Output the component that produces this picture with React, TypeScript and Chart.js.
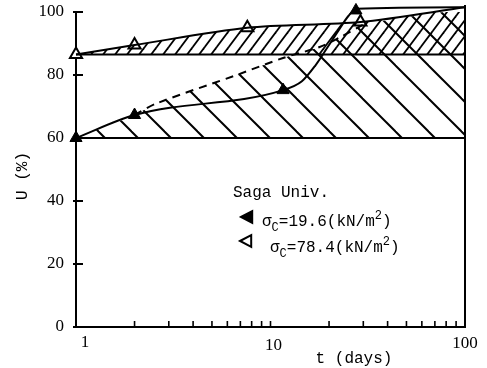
import React, { useEffect, useRef } from "react";
import { Chart, registerables } from "chart.js";

Chart.register(...registerables);

// ---- data ----
const yTickValues = [0, 20, 40, 60, 80, 100];
const xTickValues = [1, 2, 3, 4, 5, 6, 7, 8, 9, 10, 20, 30, 40, 50, 60, 70, 80, 90, 100];
const xLabelValues = [1, 10, 100];

// sigma_c = 19.6 (filled triangles)
const filledMarkT = [1, 2, 11.6, 27.5];
const filledMarkU = [60, 67.3, 75.2, 100.5];
const filledCurveT = [1, 2, 11.6, 14.5, 17, 19.5, 22.3, 25.2, 27.8, 100];
const filledCurveU = [60, 67.3, 75.2, 78, 83, 88.5, 94, 98.8, 101, 101.5];

// sigma_c = 78.4 (open triangles)
const openMarkT = [1, 2, 7.6, 29];
const openMarkU = [86.5, 89.5, 95, 96.8];
const openCurveT = [1, 2, 7.6, 29, 100];
const openCurveU = [86.5, 89.5, 95, 96.8, 101.5];

// dashed curve
const dashedT = [2, 2.6, 6.7, 11.6, 17.9, 22.8, 29.8];
const dashedU = [67.3, 71, 80, 85.4, 88.9, 92, 95.9];

// lower hatched band upper boundary
const hatchLowT = [1, 2, 2.6, 6.7, 11.6, 17.9, 22.8, 29.8, 100];
const hatchLowU = [60, 67.3, 71, 80, 85.4, 88.9, 92, 95.9, 101];

const baseLowU = 60;
const baseHighU = 86.5;
const rangeT = [1, 100];

const zip = (xs: number[], ys: number[]) => xs.map((x, i) => ({ x, y: ys[i] }));

function makePattern(w: number, h: number, forward: boolean, lw: number) {
  const c = document.createElement("canvas");
  c.width = w;
  c.height = h;
  const g = c.getContext("2d")!;
  g.strokeStyle = "#000";
  g.lineWidth = lw;
  g.lineCap = "square";
  for (const o of [-w, 0, w]) {
    g.beginPath();
    if (forward) {
      g.moveTo(o, h);
      g.lineTo(o + w, 0);
    } else {
      g.moveTo(o, 0);
      g.lineTo(o + w, h);
    }
    g.stroke();
  }
  return g.createPattern(c, "repeat")!;
}

function triangle(ctx: CanvasRenderingContext2D, cx: number, cy: number, r: number, filled: boolean) {
  ctx.beginPath();
  ctx.moveTo(cx - r, cy);
  ctx.lineTo(cx + r * 0.6, cy - r * 0.85);
  ctx.lineTo(cx + r * 0.6, cy + r * 0.85);
  ctx.closePath();
  ctx.fillStyle = filled ? "#000" : "#fff";
  ctx.fill();
  ctx.lineWidth = 2;
  ctx.strokeStyle = "#000";
  ctx.stroke();
}

function sigmaText(ctx: CanvasRenderingContext2D, x: number, y: number, val: string) {
  const big = "16px 'Liberation Mono', monospace";
  const small = "12px 'Liberation Mono', monospace";
  ctx.fillStyle = "#000";
  ctx.textBaseline = "alphabetic";
  ctx.textAlign = "left";
  ctx.font = big;
  ctx.fillText("\u03c3", x, y);
  let cx = x + ctx.measureText("\u03c3").width;
  ctx.font = small;
  ctx.fillText("C", cx, y + 5);
  cx += ctx.measureText("C").width;
  ctx.font = big;
  const s1 = "=" + val + "(kN/m";
  ctx.fillText(s1, cx, y);
  cx += ctx.measureText(s1).width;
  ctx.font = small;
  ctx.fillText("2", cx, y - 7);
  cx += ctx.measureText("2").width;
  ctx.font = big;
  ctx.fillText(")", cx, y);
}

const decor = {
  id: "decor",
  afterDraw(chart: any) {
    const { ctx, chartArea } = chart;
    const { left, right, bottom } = chartArea;
    const xs = chart.scales.x;
    const ys = chart.scales.y;
    ctx.save();
    ctx.strokeStyle = "#000";
    ctx.lineWidth = 2;
    // right axis
    ctx.beginPath();
    ctx.moveTo(right, ys.getPixelForValue(102.2));
    ctx.lineTo(right, bottom + 1);
    ctx.stroke();
    // y ticks (inside)
    for (const v of yTickValues) {
      const py = ys.getPixelForValue(v);
      ctx.beginPath();
      ctx.moveTo(left - 3, py);
      ctx.lineTo(left + 7, py);
      ctx.stroke();
    }
    // x ticks (inside)
    ctx.lineWidth = 1.6;
    for (const v of xTickValues) {
      const px = xs.getPixelForValue(v);
      ctx.beginPath();
      ctx.moveTo(px, bottom);
      ctx.lineTo(px, bottom - 6);
      ctx.stroke();
    }
    // x labels
    ctx.fillStyle = "#000";
    ctx.font = "17px 'Liberation Serif', serif";
    ctx.textAlign = "center";
    ctx.textBaseline = "middle";
    const offs: Record<number, [number, number]> = { 1: [9, 16], 10: [3, 19], 100: [0, 17] };
    for (const v of xLabelValues) {
      const [dx, dy] = offs[v];
      ctx.fillText(String(v), xs.getPixelForValue(v) + dx, bottom + dy);
    }
    // axis titles
    ctx.font = "16px 'Liberation Mono', monospace";
    ctx.fillText("t (days)", 354, 359);
    ctx.save();
    ctx.translate(23, 176);
    ctx.rotate(-Math.PI / 2);
    ctx.fillText("U (%)", 0, 0);
    ctx.restore();
    // legend
    ctx.textAlign = "left";
    ctx.textBaseline = "alphabetic";
    ctx.font = "16px 'Liberation Mono', monospace";
    ctx.fillText("Saga Univ.", 233, 197);
    triangle(ctx, 248, 217, 7, true);
    sigmaText(ctx, 262, 226, "19.6");
    triangle(ctx, 247, 241, 7, false);
    sigmaText(ctx, 270, 252, "78.4");
    ctx.restore();
  },
};

export default function App() {
  const ref = useRef<HTMLCanvasElement>(null);
  useEffect(() => {
    const back = makePattern(33, 33, false, 2);
    const fwd = makePattern(12, 16, true, 1.8);
    const chart = new Chart(ref.current!, {
      type: "line",
      data: {
        datasets: [
          {
            label: "hatchLow",
            data: zip(hatchLowT, hatchLowU),
            borderWidth: 0,
            pointRadius: 0,
            tension: 0.3,
            fill: { value: baseLowU },
            backgroundColor: back,
            clip: false,
          } as any,
          {
            label: "hatchHigh",
            data: zip(openCurveT, openCurveU),
            borderWidth: 0,
            pointRadius: 0,
            tension: 0.3,
            fill: { value: baseHighU },
            backgroundColor: fwd,
            clip: false,
          } as any,
          {
            label: "base60",
            data: zip(rangeT, [baseLowU, baseLowU]),
            borderColor: "#000",
            borderWidth: 2,
            pointRadius: 0,
            fill: false,
          },
          {
            label: "base86",
            data: zip(rangeT, [baseHighU, baseHighU]),
            borderColor: "#000",
            borderWidth: 2,
            pointRadius: 0,
            fill: false,
          },
          {
            label: "dashed",
            data: zip(dashedT, dashedU),
            borderColor: "#000",
            borderWidth: 2,
            borderDash: [8, 6],
            pointRadius: 0,
            tension: 0.3,
            fill: false,
          },
          {
            label: "filledCurve",
            data: zip(filledCurveT, filledCurveU),
            borderColor: "#000",
            borderWidth: 2,
            pointRadius: 0,
            cubicInterpolationMode: "monotone",
            fill: false,
            clip: false,
          } as any,
          {
            label: "openCurve",
            data: zip(openCurveT, openCurveU),
            borderColor: "#000",
            borderWidth: 2,
            pointRadius: 0,
            tension: 0.3,
            fill: false,
            clip: false,
          } as any,
          {
            label: "sigma 19.6",
            data: zip(filledMarkT, filledMarkU),
            showLine: false,
            pointStyle: "triangle",
            pointRadius: 7,
            pointBackgroundColor: "#000",
            pointBorderColor: "#000",
            pointBorderWidth: 1,
            clip: false,
          } as any,
          {
            label: "sigma 78.4",
            data: zip(openMarkT, openMarkU),
            showLine: false,
            pointStyle: "triangle",
            pointRadius: 7,
            pointBackgroundColor: "#fff",
            pointBorderColor: "#000",
            pointBorderWidth: 2,
            clip: false,
          } as any,
        ],
      },
      options: {
        animation: false,
        responsive: false,
        layout: { padding: { left: 0, top: 12, right: 22, bottom: 0 } },
        plugins: { legend: { display: false }, tooltip: { enabled: false } },
        scales: {
          x: {
            type: "logarithmic",
            min: 1,
            max: 100,
            ticks: { display: false },
            grid: { display: false, drawTicks: false },
            border: { display: true, color: "#000", width: 2 },
            afterFit: (s: any) => {
              s.height = 41;
              s.paddingLeft = 0;
              s.paddingRight = 0;
            },
          },
          y: {
            min: 0,
            max: 100,
            ticks: {
              stepSize: 20,
              color: "#000",
              padding: 12,
              font: { family: "'Liberation Serif', serif", size: 17 },
            },
            grid: { display: false, drawTicks: false },
            border: { display: true, color: "#000", width: 2 },
            afterFit: (s: any) => {
              s.width = 76;
              s.paddingTop = 0;
              s.paddingBottom = 0;
            },
          },
        },
      },
      plugins: [decor],
    });
    return () => chart.destroy();
  }, []);
  return (
    <div style={{ position: "fixed", left: 0, top: 0, width: 487, height: 368, background: "#fff" }}>
      <canvas ref={ref} width={487} height={368} />
    </div>
  );
}
